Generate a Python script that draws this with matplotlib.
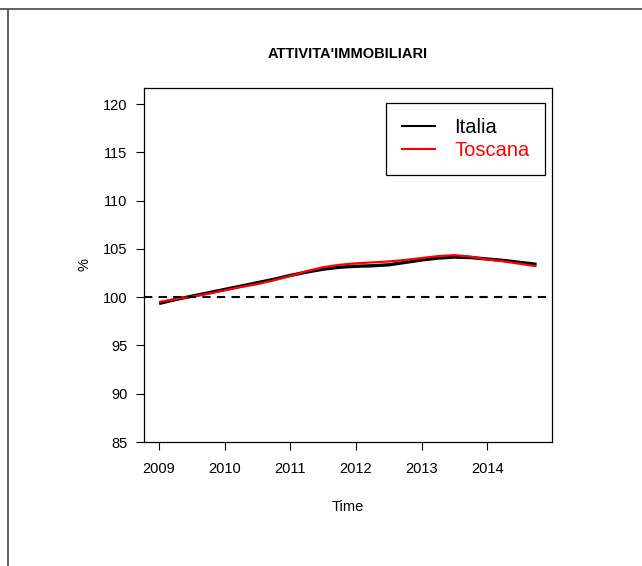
import matplotlib
matplotlib.use('Agg')
import matplotlib.pyplot as plt
from matplotlib.lines import Line2D
import numpy as np

plt.rcParams['font.family'] = ['Liberation Sans', 'DejaVu Sans']

# quarterly index, 2009Q1 .. 2014Q4
years = np.arange(2009.0, 2015.0, 0.25)
italia = [99.35, 99.75, 100.10, 100.45, 100.80, 101.15, 101.50, 101.85,
          102.25, 102.60, 102.90, 103.10, 103.20, 103.25, 103.35, 103.60,
          103.85, 104.05, 104.15, 104.10, 103.95, 103.80, 103.60, 103.40]
toscana = [99.50, 99.80, 100.05, 100.35, 100.70, 101.05, 101.35, 101.75,
           102.20, 102.70, 103.10, 103.35, 103.50, 103.60, 103.70, 103.85,
           104.05, 104.25, 104.35, 104.20, 103.90, 103.70, 103.45, 103.20]
xticks = [2009, 2010, 2011, 2012, 2013, 2014]
yticks = [85, 90, 95, 100, 105, 110, 115, 120]

fig = plt.figure(figsize=(6.42, 5.66), dpi=100)

# page frame lines around the chart
fig.add_artist(Line2D([0, 1], [1 - 9/566, 1 - 9/566], color='#555555', lw=1.3))
fig.add_artist(Line2D([7.5/642, 7.5/642], [0, 1 - 9/566], color='#555555', lw=1.3))

ax = fig.add_axes([144/642, (566-442)/566, 408/642, 354/566])

ax.plot(years, italia, color='black', lw=2.4, label='Italia', solid_capstyle='butt')
ax.plot(years, toscana, color='red', lw=1.6, label='Toscana', solid_capstyle='butt')
ax.axhline(100, color='black', lw=1.5, linestyle=(0, (4, 3)))

ax.set_xlim(2008.77, 2014.985)
ax.set_ylim(85, 121.66)
ax.set_xticks(xticks)
ax.set_yticks(yticks)
ax.tick_params(axis='both', direction='out', length=5.5, width=0.8, labelsize=10.5)
ax.tick_params(axis='x', pad=9)
ax.tick_params(axis='y', pad=6.5)
for s in ax.spines.values():
    s.set_linewidth(0.9)

ax.set_title("ATTIVITA'IMMOBILIARI", fontsize=10.5, fontweight='bold', pad=21.5)
ax.set_xlabel('Time', fontsize=10.5, labelpad=17)
ax.set_ylabel('%', fontsize=10.5, labelpad=8)

leg = ax.legend(loc='upper right', bbox_to_anchor=(0.982, 0.958), fontsize=14.5,
                frameon=True, fancybox=False, edgecolor='black', framealpha=1,
                handlelength=1.75, handletextpad=0.9, borderpad=0.75,
                labelspacing=0.2, labelcolor='linecolor', borderaxespad=0)
leg.get_frame().set_linewidth(0.9)
for h in leg.legend_handles:
    h.set_linewidth(1.5)

fig.savefig('out.png', dpi=100)
